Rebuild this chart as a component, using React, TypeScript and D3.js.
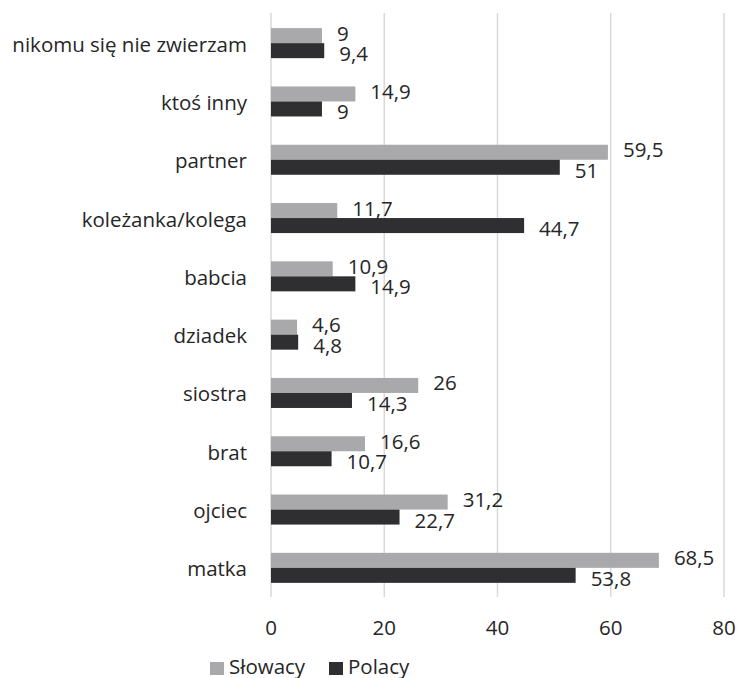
import React from "react";
import * as d3 from "d3";

const categories = [
  "nikomu się nie zwierzam",
  "ktoś inny",
  "partner",
  "koleżanka/kolega",
  "babcia",
  "dziadek",
  "siostra",
  "brat",
  "ojciec",
  "matka",
];
const seriesNames = ["Słowacy", "Polacy"];
const slowacy = [9, 14.9, 59.5, 11.7, 10.9, 4.6, 26, 16.6, 31.2, 68.5];
const polacy = [9.4, 9, 51, 44.7, 14.9, 4.8, 14.3, 10.7, 22.7, 53.8];
const ticks = [0, 20, 40, 60, 80];

const colors = ["#a9a9ab", "#2f2f32"];
const FONT = "'Open Sans', Lato, sans-serif";
const FS = 20.5;
const TEXT = "#262626";

export default function App() {
  const W = 737;
  const H = 678;
  const x = d3.scaleLinear().domain([0, 80]).range([271, 724]);
  const y = d3
    .scaleBand<string>()
    .domain(categories)
    .range([14, 597])
    .paddingInner(0.485)
    .paddingOuter(0.2425);
  const inner = d3
    .scaleBand<string>()
    .domain(seriesNames)
    .range([0, y.bandwidth()]);
  const series = [slowacy, polacy];
  const fmt = (v: number) => String(v).replace(".", ",");
  // baseline offsets of the value labels relative to each bar's centre
  const labelBaseline = [5, 10.5];

  return (
    <svg
      width={W}
      height={H}
      style={{ position: "absolute", left: 0, top: 0, background: "#fff" }}
      fontFamily={FONT}
    >
      {ticks.map((t) => (
        <g key={t}>
          <line
            x1={x(t)}
            x2={x(t)}
            y1={13}
            y2={597}
            stroke="#d9d9d9"
            strokeWidth={1.5}
          />
          <text x={x(t)} y={635} textAnchor="middle" fontSize={FS} fill={TEXT}>
            {t}
          </text>
        </g>
      ))}
      {categories.map((c, i) => (
        <g key={c}>
          <text
            x={247}
            y={(y(c) as number) + y.bandwidth() / 2 + 8.5}
            textAnchor="end"
            fontSize={FS}
            fill={TEXT}
          >
            {c}
          </text>
          {series.map((vals, s) => {
            const by = (y(c) as number) + (inner(seriesNames[s]) as number);
            const bh = inner.bandwidth();
            return (
              <g key={s}>
                <rect
                  x={x(0)}
                  y={by}
                  width={x(vals[i]) - x(0)}
                  height={bh}
                  fill={colors[s]}
                />
                <text
                  x={x(vals[i]) + 15}
                  y={by + bh / 2 + labelBaseline[s]}
                  fontSize={FS}
                  fill={TEXT}
                >
                  {fmt(vals[i])}
                </text>
              </g>
            );
          })}
        </g>
      ))}
      {/* legend */}
      <rect x={210} y={662} width={14} height={13} fill={colors[0]} />
      <text x={229} y={674} fontSize={FS} fill={TEXT}>
        {seriesNames[0]}
      </text>
      <rect x={329} y={662} width={14} height={13} fill={colors[1]} />
      <text x={348} y={674} fontSize={FS} fill={TEXT}>
        {seriesNames[1]}
      </text>
    </svg>
  );
}
